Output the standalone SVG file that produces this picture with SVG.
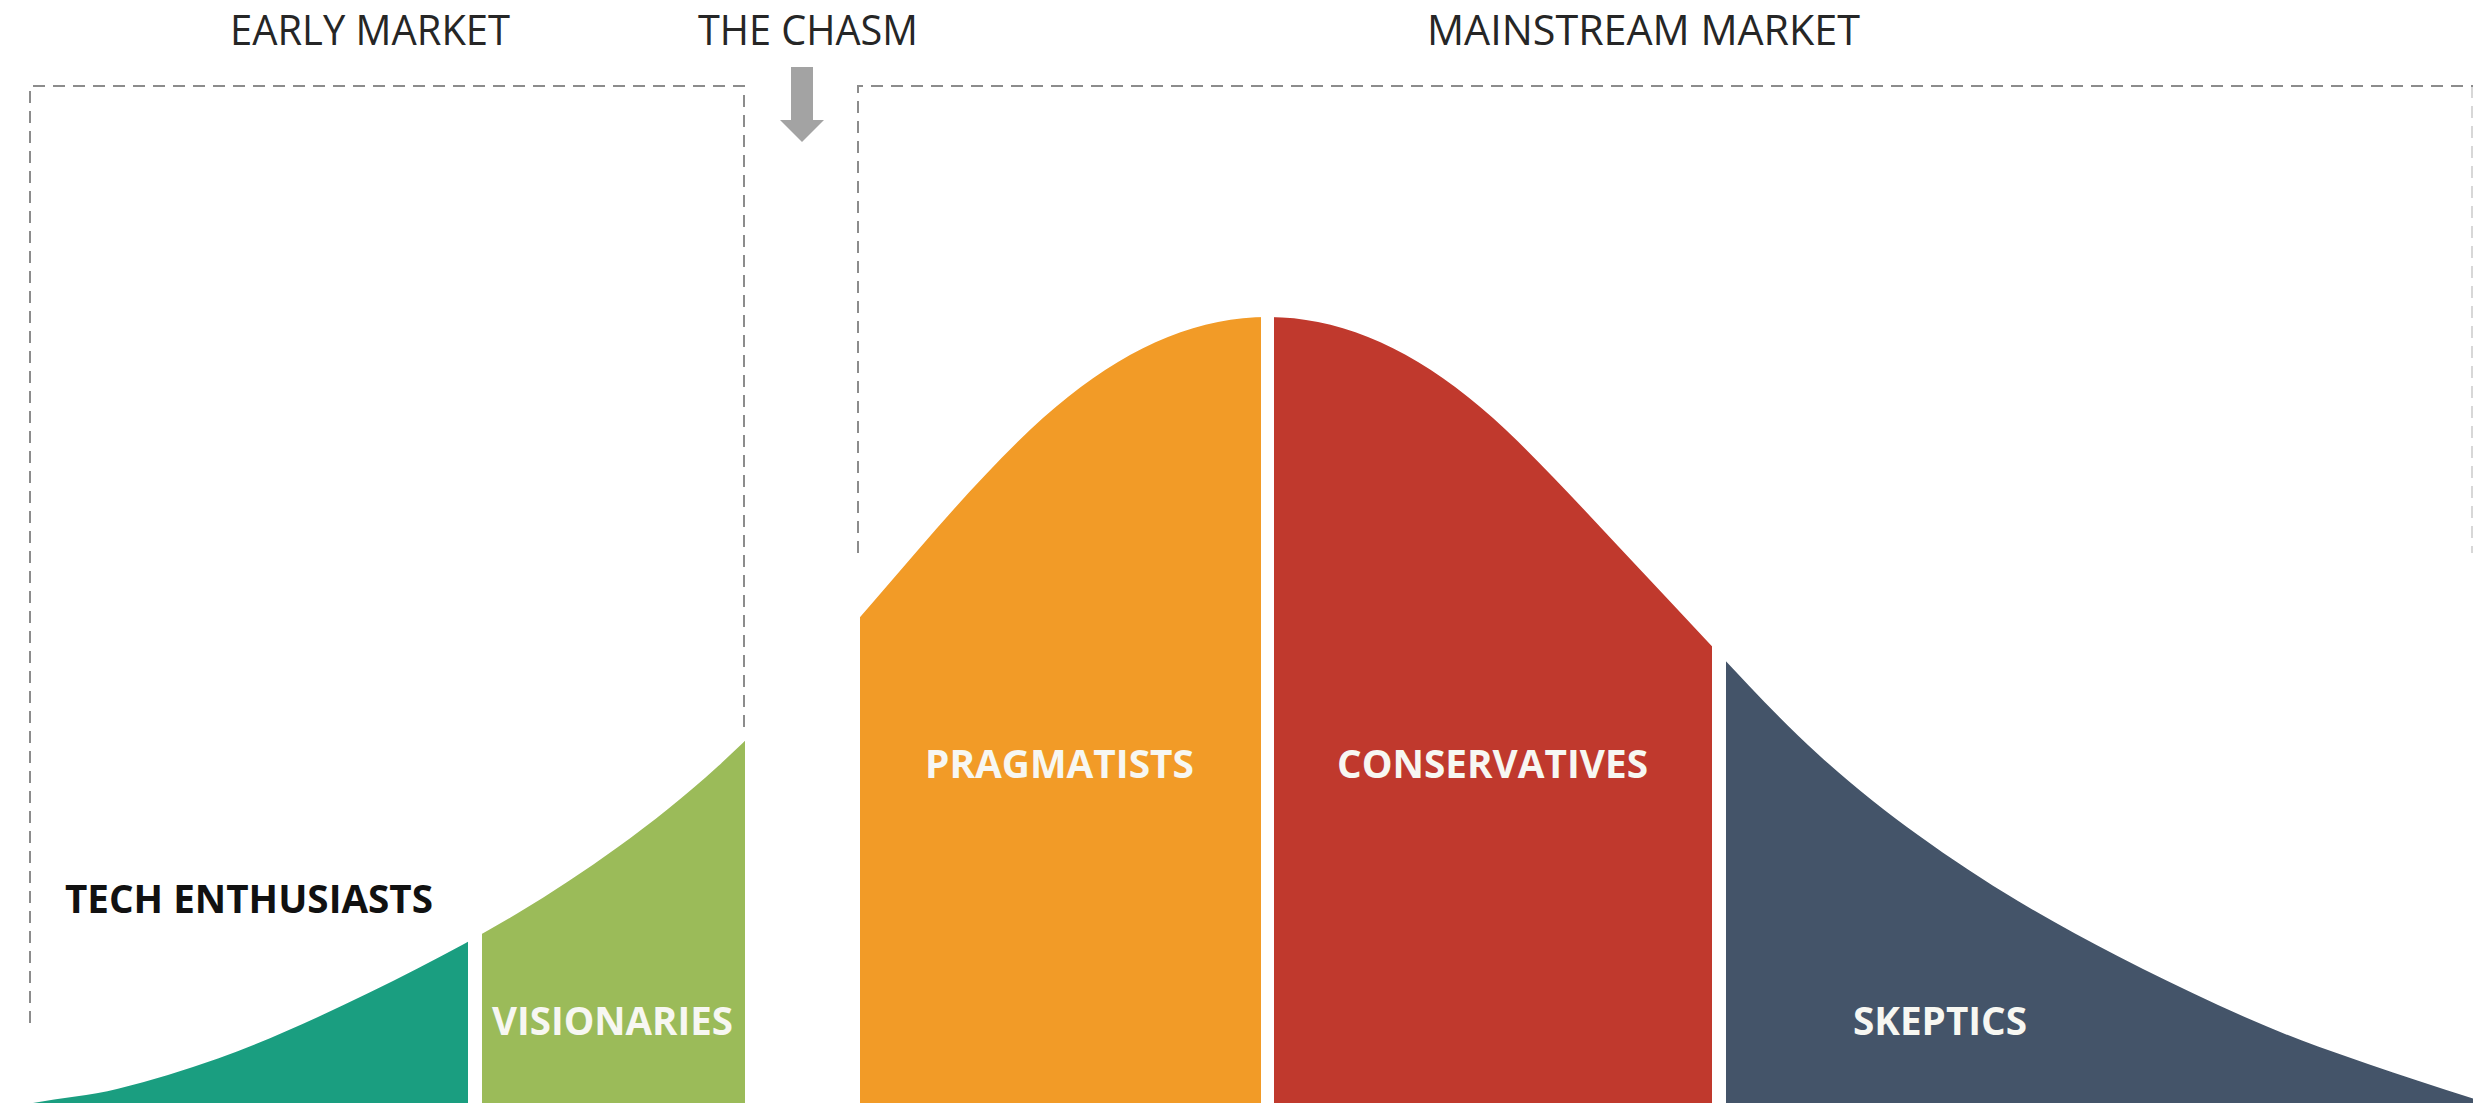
<svg xmlns="http://www.w3.org/2000/svg" width="2473" height="1105" viewBox="0 0 2473 1105">
<style>
  .hdr { font-family: "Open Sans", "Liberation Sans", sans-serif; font-size: 42px; fill: #262626; }
  .lbl { font-family: "Open Sans", "Liberation Sans", sans-serif; font-weight: 700; font-size: 39px; }
  .dark { fill: #111111; }
  .light { fill: #f7f7f2; }
  .frame { fill: none; stroke: #8c8c8c; stroke-width: 2; stroke-dasharray: 12 8; }
  .faint { opacity: 0.35; }
  .arrow { fill: #a3a3a3; }
</style>
<defs>
  <clipPath id="bell">
    <path d="M33,1103 C61.33,1097.9 89.67,1095.83 118,1088.75 C151.33,1080.42 184.67,1070.5 218,1058.5 C251.33,1046.5 284.67,1032.33 318,1017 C351.33,1001.67 384.67,985.25 418,968.25 C451.33,951.25 484.67,933 518,913 C551.33,893 584.67,871 618,847 C651.33,823 684.67,796.58 718,766.25 C751.33,735.92 784.67,701.75 818,664.75 C851.33,627.75 884.67,588.67 918,550 C951.33,511.33 984.67,474.17 1018,441.5 C1051.33,408.83 1084.67,382 1118,362 C1151.33,342 1184.67,328.67 1218,322 C1234.67,318.67 1251.33,317 1268,317 C1284.67,317 1301.33,318.67 1318,322 C1351.33,328.67 1384.67,342 1418,362 C1451.33,382 1484.67,408.83 1518,441.5 C1551.33,474.17 1584.67,510.33 1618,546 C1651.33,581.67 1684.67,617.08 1718,652.75 C1751.33,688.42 1784.67,723.92 1818,754.25 C1851.33,784.58 1884.67,811 1918,835 C1951.33,859 1984.67,881 2018,901 C2051.33,921 2084.67,939.25 2118,956.25 C2151.33,973.25 2184.67,989.67 2218,1005 C2251.33,1020.33 2284.67,1034.5 2318,1046.5 C2351.33,1058.5 2384.67,1069.75 2418,1080.75 C2436.33,1086.8 2454.67,1092.73 2473,1098.6 L2473,1103 Z"/>
  </clipPath>
</defs>
<rect x="0" y="0" width="2473" height="1105" fill="#ffffff"/>

<g id="early-market">
  <path class="frame" d="M30,1023 V86 H744 V727"/>
  <text class="hdr" x="230" y="45" textLength="280" lengthAdjust="spacingAndGlyphs">EARLY MARKET</text>
</g>

<g id="the-chasm">
  <text class="hdr" x="698" y="45" textLength="220" lengthAdjust="spacingAndGlyphs">THE CHASM</text>
</g>

<g id="mainstream-market">
  <path class="frame" d="M858,553 V86 H2473"/>
  <path class="frame faint" d="M2472,86 V553"/>
  <text class="hdr" x="1427" y="45" textLength="433" lengthAdjust="spacingAndGlyphs">MAINSTREAM MARKET</text>
</g>

<g id="connectors">
  <polygon class="arrow" points="791,67 813,67 813,120 824,120 802,142 780,120 791,120"/>
</g>

<g id="tech-enthusiasts">
  <rect x="0" y="300" width="468" height="803" fill="#1a9e80" clip-path="url(#bell)"/>
  <text class="lbl dark" x="65" y="913" textLength="368" lengthAdjust="spacingAndGlyphs">TECH ENTHUSIASTS</text>
</g>

<g id="visionaries">
  <rect x="482" y="300" width="263" height="803" fill="#9bbb59" clip-path="url(#bell)"/>
  <text class="lbl light" x="492" y="1035" textLength="241" lengthAdjust="spacingAndGlyphs">VISIONARIES</text>
</g>

<g id="pragmatists">
  <rect x="860" y="300" width="401" height="803" fill="#f29b27" clip-path="url(#bell)"/>
  <text class="lbl light" x="925" y="778" textLength="269" lengthAdjust="spacingAndGlyphs">PRAGMATISTS</text>
</g>

<g id="conservatives">
  <rect x="1274" y="300" width="438" height="803" fill="#c0392d" clip-path="url(#bell)"/>
  <text class="lbl light" x="1337" y="778" textLength="311" lengthAdjust="spacingAndGlyphs">CONSERVATIVES</text>
</g>

<g id="skeptics">
  <rect x="1726" y="300" width="747" height="803" fill="#445469" clip-path="url(#bell)"/>
  <text class="lbl light" x="1853" y="1035" textLength="174" lengthAdjust="spacingAndGlyphs">SKEPTICS</text>
</g>
</svg>
